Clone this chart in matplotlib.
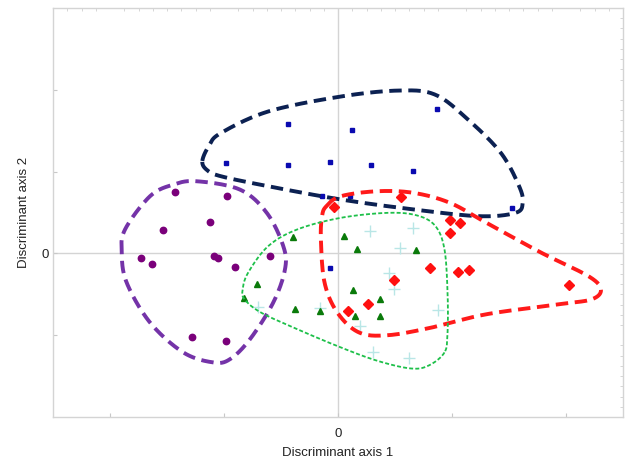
import numpy as np
import matplotlib
matplotlib.use("Agg")
import matplotlib.pyplot as plt
from matplotlib.ticker import MultipleLocator, FixedLocator

plt.rcParams['font.family'] = ['Liberation Sans', 'DejaVu Sans']

# ---- data (discriminant scores) ----
blue_x = [0.871, -0.437, 0.125, -0.979, -0.437, -0.074, 0.290, 0.654, -0.140, 0.109, 1.528, -0.074]
blue_y = [1.765, 1.581, 1.512, 1.101, 1.077, 1.122, 1.077, 1.008, 0.707, 0.707, 0.549, -0.183]

purple_x = [-1.432, -0.973, -1.119, -1.534, -1.729, -1.630, -1.088, -1.056, -0.906, -0.593, -1.285, -0.986]
purple_y = [0.748, 0.699, 0.378, 0.289, -0.057, -0.126, -0.033, -0.057, -0.171, -0.037, -1.020, -1.065]

green_x = [-0.392, 0.054, 0.169, 0.680, -0.708, -0.823, 0.134, 0.367, -0.376, -0.162, 0.150, 0.367]
green_y = [0.195, 0.215, 0.057, 0.037, -0.378, -0.541, -0.447, -0.561, -0.675, -0.707, -0.764, -0.764]

red_x = [0.552, -0.038, 0.986, 1.069, 0.986, 0.804, 1.053, 1.152, 2.025, 0.488, 0.259, 0.092]
red_y = [0.691, 0.569, 0.411, 0.366, 0.248, -0.183, -0.228, -0.203, -0.390, -0.321, -0.618, -0.707]

cyan_x = [0.277, 0.661, 0.542, 0.447, 0.491, -0.698, -0.162, 0.877, 0.195, 0.310, 0.625]
cyan_y = [0.272, 0.309, 0.061, -0.236, -0.439, -0.650, -0.671, -0.695, -0.886, -1.211, -1.285]

# ---- group envelopes (vertices, data units) ----
blue_hull_x = [-1.19, -1.13, -1.027, -0.612, 0.025, 0.536, 0.855, 1.142, 1.429, 1.589, 1.620, 1.557, 1.238, 0.663, 0.025, -0.612, -1.027, -1.15]
blue_hull_y = [1.13, 1.32, 1.472, 1.735, 1.918, 1.991, 1.939, 1.634, 1.228, 0.821, 0.618, 0.496, 0.455, 0.537, 0.659, 0.821, 0.943, 1.02]

purple_hull_x = [-1.897, -1.868, -1.649, -1.445, -1.239, -0.860, -0.625, -0.480, -0.465, -0.568, -0.772, -0.947, -1.094, -1.357, -1.649, -1.854]
purple_hull_y = [0.009, 0.293, 0.699, 0.841, 0.882, 0.780, 0.496, 0.089, -0.195, -0.601, -1.049, -1.293, -1.333, -1.211, -0.845, -0.357]

green_hull_x = [0.934, 0.791, 0.632, 0.345, 0.025, -0.357, -0.676, -0.820, -0.836, -0.788, -0.612, -0.357, 0.025, 0.440, 0.696, 0.855, 0.934, 0.961, 0.961]
green_hull_y = [-1.211, -1.374, -1.406, -1.313, -1.150, -0.927, -0.723, -0.561, -0.439, -0.235, 0.089, 0.293, 0.435, 0.496, 0.463, 0.333, 0.049, -0.479, -0.967]

red_hull_x = [-0.102, 0.025, 0.345, 0.663, 0.982, 1.302, 1.782, 2.195, 2.306, 2.226, 1.939, 1.302, 0.823, 0.440, 0.185, -0.006, -0.118, -0.150, -0.140]
red_hull_y = [0.577, 0.699, 0.760, 0.740, 0.618, 0.374, 0.009, -0.277, -0.439, -0.561, -0.622, -0.744, -0.906, -1.000, -0.967, -0.723, -0.357, 0.171, 0.455]


def closed_spline(xs, ys, n=30):
    P = np.column_stack([xs, ys]).astype(float)
    m = len(P)
    out = []
    for i in range(m):
        p0, p1, p2, p3 = P[(i - 1) % m], P[i], P[(i + 1) % m], P[(i + 2) % m]
        t = np.linspace(0, 1, n, endpoint=False)[:, None]
        seg = 0.5 * ((2 * p1) + (-p0 + p2) * t + (2 * p0 - 5 * p1 + 4 * p2 - p3) * t ** 2
                     + (-p0 + 3 * p1 - 3 * p2 + p3) * t ** 3)
        out.append(seg)
    out = np.vstack(out + [out[0][:1]])
    return out[:, 0], out[:, 1]


fig = plt.figure(figsize=(6.25, 4.63), dpi=100)
ax = fig.add_axes([0.0848, 0.0994, 0.912, 0.8833])
ax.set_xlim(-2.5, 2.5)
ax.set_ylim(-2, 3)

ax.axhline(0, color='#d4d4d4', lw=1.0, zorder=0)
ax.axvline(0, color='#d4d4d4', lw=1.0, zorder=0)

# points
ax.plot(cyan_x, cyan_y, '+', color='#b9e6e6', ms=9, mew=1.0, ls='none', zorder=2)
ax.plot(blue_x, blue_y, 's', color='#0a0ab0', ms=3.4, ls='none', zorder=3)
ax.plot(purple_x, purple_y, 'o', color='#7a007a', ms=4.6, ls='none', zorder=3)
ax.plot(green_x, green_y, '^', color='#0a7a0a', ms=5.0, ls='none', zorder=3)
ax.plot(red_x, red_y, 'D', color='#ff1010', ms=4.6, ls='none', zorder=3)

# envelopes
hx, hy = closed_spline(blue_hull_x, blue_hull_y)
ax.plot(hx, hy, color='#0c2152', lw=2.8, dashes=(3.2, 1.7), zorder=4)
hx, hy = closed_spline(purple_hull_x, purple_hull_y)
ax.plot(hx, hy, color='#7433a8', lw=2.8, dashes=(3.2, 1.7), zorder=4)
hx, hy = closed_spline(red_hull_x, red_hull_y)
ax.plot(hx, hy, color='#ff1a1a', lw=2.8, dashes=(3.2, 1.7), zorder=4)
hx, hy = closed_spline(green_hull_x, green_hull_y)
ax.plot(hx, hy, color='#1ec04a', lw=1.3, dashes=(2.2, 1.2), zorder=4)

# axes styling
for s in ax.spines.values():
    s.set_color('#d4d4d4')
    s.set_linewidth(1.0)

ax.xaxis.set_major_locator(FixedLocator([-2, -1, 0, 1, 2]))
ax.yaxis.set_major_locator(FixedLocator([-1, 0, 1, 2]))
ax.set_xticklabels(['', '', '0', '', ''])
ax.set_yticklabels(['', '0', '', ''])
ax.xaxis.set_minor_locator(MultipleLocator(0.125))
ax.yaxis.set_minor_locator(MultipleLocator(0.125))
ax.tick_params(axis='both', which='major', direction='in', length=3, color='#c8c8c8',
               labelsize=9.5, labelcolor='#222222')
ax.tick_params(axis='x', which='major', pad=8)
ax.tick_params(axis='y', which='major', pad=3)
ax.tick_params(axis='x', which='minor', direction='in', length=2, color='#d0d0d0',
               bottom=False, top=True)
ax.tick_params(axis='y', which='minor', direction='in', length=2, color='#d0d0d0',
               left=False, right=True)

ax.set_xlabel('Discriminant axis 1', fontsize=9.5, color='#222222', labelpad=5)
ax.set_ylabel('Discriminant axis 2', fontsize=9.5, color='#222222', labelpad=8)

fig.savefig('out.png', dpi=100)
